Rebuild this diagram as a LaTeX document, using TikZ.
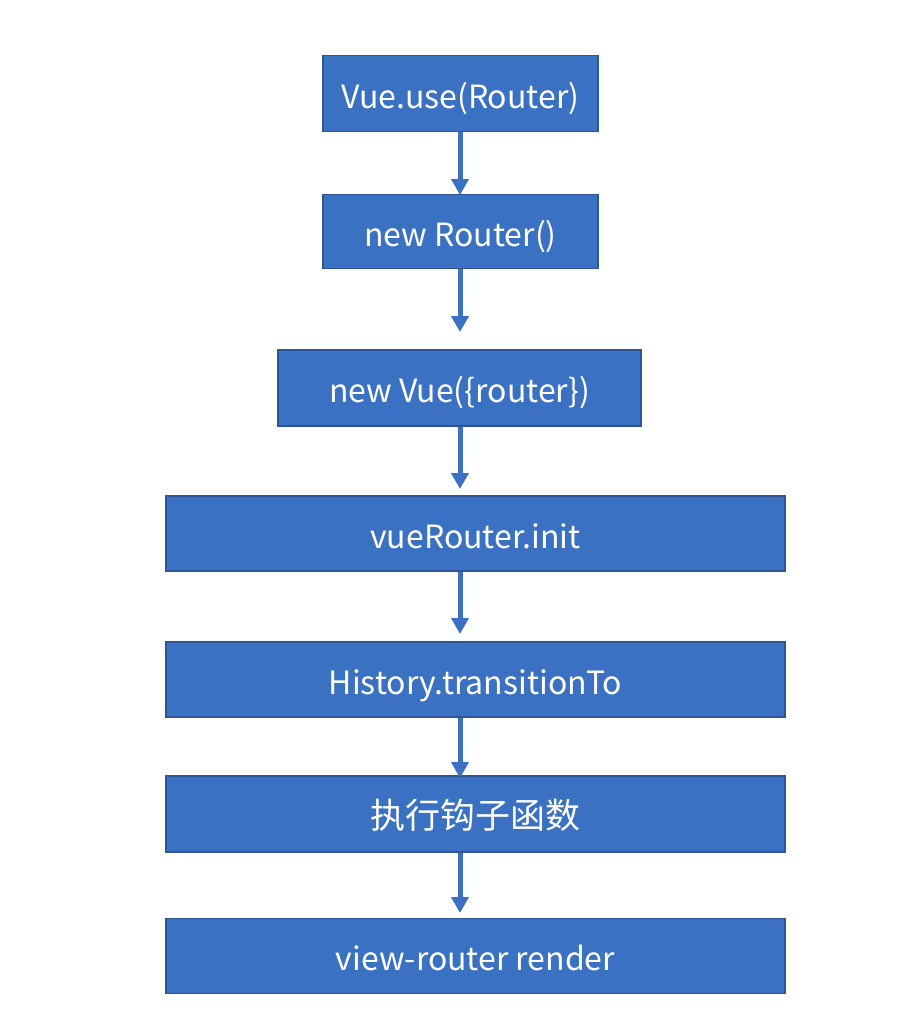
\documentclass[tikz,border=0pt]{standalone}
\usepackage{fontspec}
\newfontfamily\cjk{Noto Sans CJK SC}
\usetikzlibrary{arrows.meta}
\definecolor{boxfill}{HTML}{3A71C2}
\definecolor{boxline}{HTML}{2F5597}
\definecolor{arrowc}{HTML}{3A71C2}
\tikzset{
  stepbox/.style={rectangle, fill=boxfill, draw=boxline, line width=1.8pt, text=white,
    font=\cjk\fontsize{32}{38}\selectfont, inner sep=0pt, text height=29.5pt, text depth=0pt},
  bigtext/.style={font=\cjk\fontsize{35}{40}\selectfont, text height=28.6pt},
  flow/.style={draw=arrowc, line width=5pt, -{Triangle[width=17pt,length=16pt]}, shorten >=0pt}
}
\begin{document}
\begin{tikzpicture}[x=1pt,y=-1pt]
\useasboundingbox (0,0) rectangle (911,1023);
\node[stepbox, minimum width=275pt, minimum height=76pt] (b1) at (460.5,93.5) {Vue.use(Router)};
\node[stepbox, minimum width=275pt, minimum height=74pt] (b2) at (460.5,231.5) {new Router()};
\node[stepbox, minimum width=363pt, minimum height=76pt] (b3) at (459.5,388) {new Vue(\{router\})};
\node[stepbox, minimum width=619pt, minimum height=75pt] (b4) at (475.5,533.5) {vueRouter.init};
\node[stepbox, minimum width=619pt, minimum height=75pt] (b5) at (475.5,679.5) {History.transitionTo};
\node[stepbox, bigtext, minimum width=619pt, minimum height=76pt] (b6) at (475.5,814) {执行钩子函数};
\node[stepbox, minimum width=619pt, minimum height=75pt] (b7) at (475.5,956) {view-router render};
\coordinate (ax) at (460,0);
\coordinate (t1) at (460,195);
\coordinate (t2) at (460,332);
\coordinate (t3) at (460,489);
\coordinate (t4) at (460,634);
\coordinate (t5) at (460,778);
\coordinate (t6) at (460,913);
\draw[flow] (b1.south -| ax) -- (t1);
\draw[flow] (b2.south -| ax) -- (t2);
\draw[flow] (b3.south -| ax) -- (t3);
\draw[flow] (b4.south -| ax) -- (t4);
\draw[flow] (b5.south -| ax) -- (t5);
\draw[flow] (b6.south -| ax) -- (t6);
\end{tikzpicture}
\end{document}
